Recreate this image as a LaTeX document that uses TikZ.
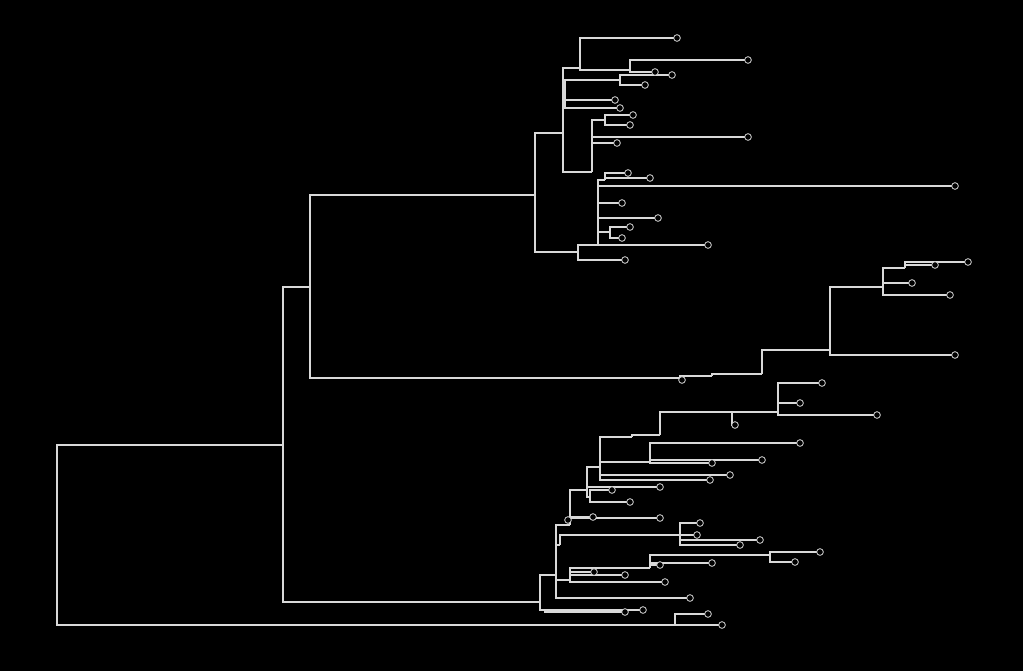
\documentclass[tikz,border=0pt]{standalone}
% internal nodes: name/parent/x/y
\def\innerlist{a/r/283/445, b/a/310/287, c/a/540/602, og/r/675/625,
    d/b/535/195, e/b/680/378,
    d1/d/563/133, d11/d1/580/68, d111/d11/630/70, d12/d1/565/100, d121/d12/620/80,
    d13/d1/592/172, d131/d13/605/120,
    d2/d/578/252, d21/d2/598/245, d211/d21/605/180, d212/d21/610/232,
    e1/e/712/376, e2/e1/762/374, e3/e2/785/350, e4/e3/830/350, e5/e4/883/287, e51/e5/905/268,
    c1/c/556/575, c11/c1/570/525, c111/c11/587/490, c1111/c111/600/467,
    c11111/c1111/632/437, c11112/c11111/660/435, c11113/c11112/732/412, c11114/c11113/778/412,
    c1112/c111/590/497, c1113/c1111/650/462,
    c12/c1/560/545, c121/c12/680/535, c13/c1/570/580, c131/c13/650/568, c132/c131/770/555,
    c2/c/545/610}
% leaves: name/parent/x/y
\def\leaflist{l1/d11/677/38, l2/d111/748/60, l3/d111/655/72, l4/d121/672/75,
    l5/d121/645/85, l6/d12/615/100, l7/d12/620/108, l8/d131/633/115, l9/d131/630/125,
    l10/d13/748/137, l11/d13/617/143, l12/d211/650/178, l13/d211/628/173, l14/d21/955/186,
    l15/d21/622/203, l16/d21/658/218, l17/d212/630/227, l18/d212/622/238, l19/d2/708/245,
    l20/d2/625/260, l21/og/722/625, l22/og/708/614,
    l23/e/682/380, l24/e51/968/262, l25/e51/935/265, l26/e5/912/283, l27/e5/950/295,
    l28/e4/955/355,
    l29/c11114/822/383, l30/c11114/800/403, l31/c11114/877/415, l32/c11113/735/425,
    l33/c1113/800/443, l34/c1113/762/460, l35/c1113/712/463, l36/c1111/730/475,
    l37/c1111/710/480, l38/c111/660/487, l39/c1112/630/502, l40/c1112/612/490,
    l41/c11/593/517, l42/c11/568/520, l43/c11/660/518,
    l44/c121/700/523, l45/c121/760/540, l46/c121/740/545, l47/c12/697/535,
    l48/c132/820/552, l49/c132/795/562, l50/c131/712/563, l51/c131/660/565,
    l52/c13/625/575, l53/c13/594/572, l54/c13/665/582, l55/c1/690/598,
    l56/c2/643/610, l57/c2/625/612}
\begin{document}
\begin{tikzpicture}[x=0.75pt,y=-0.75pt,
    br/.style={draw=white!85!black, line width=1.2pt},
    leaf/.style={circle, draw=white!85!black, fill=black, line width=0.6pt, minimum size=5pt, inner sep=0pt}]
      \fill[black] (0,0) rectangle (1023,671);
      \coordinate (r) at (57,535);
      \foreach \n/\p/\x/\y in \innerlist {\coordinate (\n) at (\x,\y);}
      \foreach \n/\p/\x/\y in \leaflist {\coordinate (\n) at (\x,\y);}
      % branches, then tips
      \foreach \n/\p/\x/\y in \innerlist {\draw[br] (\p) |- (\n);}
      \foreach \n/\p/\x/\y in \leaflist {\draw[br] (\p) |- (\n);}
      \foreach \n/\p/\x/\y in \leaflist {\node[leaf] at (\n) {};}
\end{tikzpicture}
\end{document}
